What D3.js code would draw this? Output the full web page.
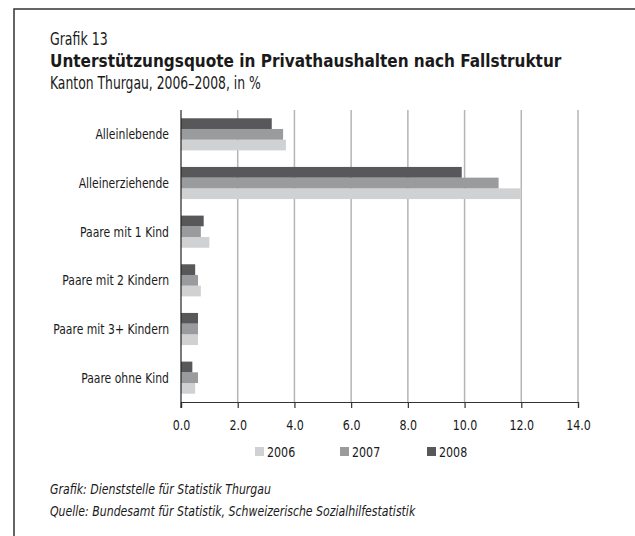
<!DOCTYPE html>
<html>
<head>
<meta charset="utf-8">
<script src="https://cdn.jsdelivr.net/npm/d3@7"></script>
<style>
  body { margin: 0; background: #fff; }
  svg text { font-family: "DejaVu Sans Condensed", "Liberation Sans Narrow", sans-serif; fill: #1a1a1a; }
</style>
</head>
<body>
<div id="chart"></div>
<script>
// data
const categories = ["Alleinlebende", "Alleinerziehende", "Paare mit 1 Kind", "Paare mit 2 Kindern", "Paare mit 3+ Kindern", "Paare ohne Kind"];
const years = ["2006", "2007", "2008"];
const values2006 = [3.7, 12.0, 1.0, 0.7, 0.6, 0.5];
const values2007 = [3.6, 11.2, 0.7, 0.6, 0.6, 0.6];
const values2008 = [3.2, 9.9, 0.8, 0.5, 0.6, 0.4];
const xTicks = [0, 2, 4, 6, 8, 10, 12, 14];

const colors = { "2006": "#d0d1d3", "2007": "#9a9b9d", "2008": "#58585a" };

const W = 635, H = 536;
const svg = d3.select("#chart").append("svg")
    .attr("width", W)
    .attr("height", H);

// the original uses a narrow font; squeeze text horizontally to get close
function narrowText(x, y, str, size, sx, anchor) {
    return svg.append("g")
        .attr("transform", `translate(${x},${y}) scale(${sx},1)`)
        .append("text")
        .attr("font-size", size)
        .attr("text-anchor", anchor || "start")
        .text(str);
}

// frame (top and left lines only)
svg.append("path")
    .attr("d", `M14,${H} L14,9 L${W},9`)
    .attr("fill", "none")
    .attr("stroke", "#333")
    .attr("stroke-width", 1.5);

// titles
narrowText(50, 45, "Grafik 13", 17, 0.82);
narrowText(50, 67, "Unterstützungsquote in Privathaushalten nach Fallstruktur", 17, 1.0)
    .attr("font-weight", "bold");
narrowText(50, 89, "Kanton Thurgau, 2006–2008, in %", 17, 0.81);

// plot area
const plotLeft = 181, plotRight = 578, plotTop = 110, plotBottom = 402;

const x = d3.scaleLinear().domain([0, 14]).range([plotLeft, plotRight]);
const y = d3.scaleBand().domain(categories).range([plotTop, plotBottom]).paddingInner(0.34).paddingOuter(0.17);
// bars stacked top-down: 2008, 2007, 2006
const yInner = d3.scaleBand().domain(["2008", "2007", "2006"]).range([0, y.bandwidth()]);

// grid lines
svg.append("g")
    .selectAll("line")
    .data(xTicks.filter(d => d > 0))
    .join("line")
    .attr("x1", d => x(d)).attr("x2", d => x(d))
    .attr("y1", plotTop).attr("y2", plotBottom)
    .attr("stroke", "#b4b4b4")
    .attr("stroke-width", 1.5);

const series = [
    { year: "2006", values: values2006 },
    { year: "2007", values: values2007 },
    { year: "2008", values: values2008 }
];

svg.append("g")
    .selectAll("g")
    .data(series)
    .join("g")
    .attr("fill", d => colors[d.year])
    .selectAll("rect")
    .data(d => d.values.map((v, i) => ({ year: d.year, cat: categories[i], v: v })))
    .join("rect")
    .attr("x", x(0))
    .attr("y", d => y(d.cat) + yInner(d.year))
    .attr("width", d => x(d.v) - x(0))
    .attr("height", yInner.bandwidth());

// category labels
categories.forEach(c => {
    narrowText(plotLeft - 12, y(c) + y.bandwidth() / 2, c, 14, 0.86, "end")
        .attr("dy", "0.35em");
});

// axes
const xAxis = svg.append("g")
    .attr("transform", `translate(0,${plotBottom})`)
    .call(d3.axisBottom(x).tickValues(xTicks).tickFormat(d3.format(".1f")).tickSize(6).tickPadding(12));
xAxis.attr("font-family", null).attr("font-size", null);
xAxis.select(".domain").attr("stroke", "#333").attr("stroke-width", 1.2);
xAxis.selectAll(".tick line").attr("stroke", "#333").attr("stroke-width", 1.2);
xAxis.selectAll(".tick text")
    .attr("font-size", 14)
    .attr("transform", "scale(0.88,1)")
    .attr("fill", "#1a1a1a");

svg.append("line")
    .attr("x1", plotLeft).attr("x2", plotLeft)
    .attr("y1", plotTop).attr("y2", plotBottom + 6)
    .attr("stroke", "#222")
    .attr("stroke-width", 1.2);

// legend
const legendX = [255, 340, 427];
const legend = svg.append("g")
    .selectAll("g")
    .data(years)
    .join("g")
    .attr("transform", (d, i) => `translate(${legendX[i]},447)`);
legend.append("rect").attr("width", 9).attr("height", 9).attr("fill", d => colors[d]);
legend.append("text")
    .attr("transform", "translate(12,5) scale(0.88,1)")
    .attr("dy", "0.35em").attr("font-size", 14).text(d => d);

// footer
narrowText(50, 494, "Grafik: Dienststelle für Statistik Thurgau", 14.5, 0.84).attr("font-style", "italic");
narrowText(50, 516, "Quelle: Bundesamt für Statistik, Schweizerische Sozialhilfestatistik", 14.5, 0.84)
    .attr("font-style", "italic");
</script>
</body>
</html>
